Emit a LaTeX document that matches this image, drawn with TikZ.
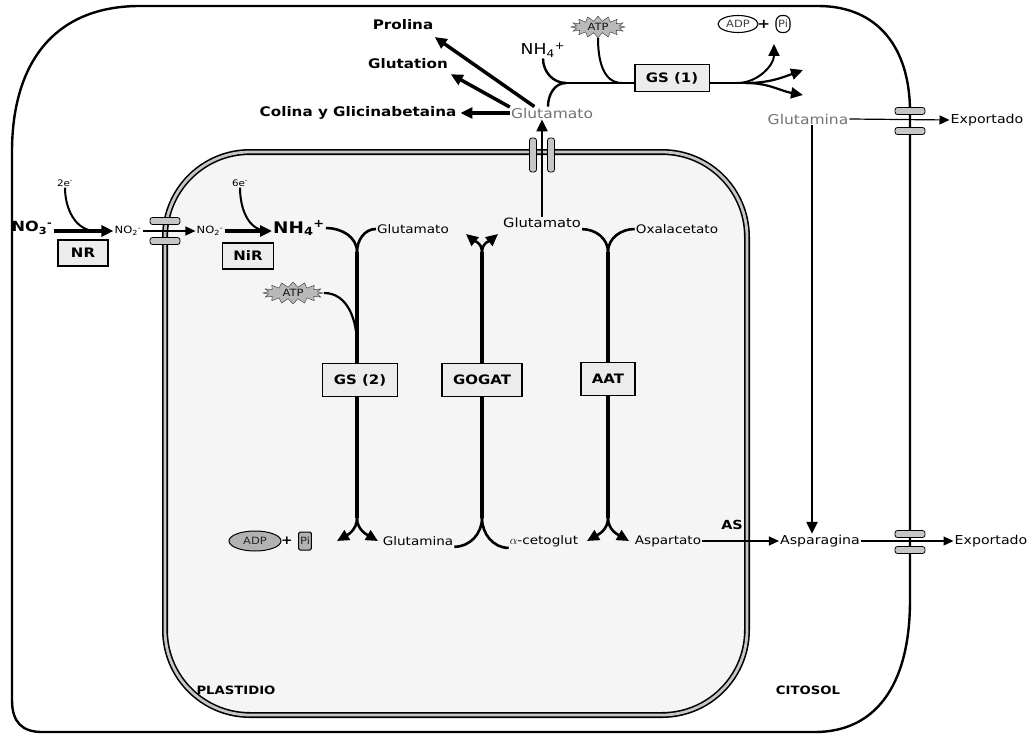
\documentclass[tikz,border=0pt]{standalone}
\usepackage{fontspec}
\setmainfont{DejaVu Sans}[FakeStretch=1.15]
\usetikzlibrary{arrows.meta,positioning,shapes.symbols,shapes.geometric}

\begin{document}
\begin{tikzpicture}[x=1pt, y=-1pt, >={Triangle[length=12pt,width=11pt]},
  every node/.style={inner sep=1pt},
  head/.style={font=\fontsize{13.2}{15}\selectfont\bfseries},
  met/.style={font=\fontsize{11.8}{14}\selectfont},
  metc/.style={font=\fontsize{13.5}{16}\selectfont, text=black!55},
  expo/.style={font=\fontsize{12.3}{14}\selectfont},
  elec/.style={font=\fontsize{9}{10}\selectfont},
  ion/.style={font=\fontsize{15}{17}\selectfont},
  enz/.style={draw, line width=1.3pt, fill=gray!15, minimum height=33pt,
    inner xsep=11pt, font=\fontsize{13}{15}\selectfont\bfseries},
  atp/.style={starburst, starburst points=16, starburst point height=5pt,
    random starburst=0, draw=gray!40!black, fill=gray!55, minimum width=54pt,
    minimum height=17pt, inner sep=0.5pt, text=gray!15!black,
    font=\fontsize{10}{11}\selectfont},
  hpill/.style={draw, line width=0.8pt, fill=gray!45, rounded corners=2.5pt,
    minimum width=30pt, minimum height=7pt, inner sep=0pt},
  vpill/.style={draw, line width=0.8pt, fill=gray!45, rounded corners=2.5pt,
    minimum width=7pt, minimum height=34pt, inner sep=0pt},
  stem/.style={line width=4pt},
  branch/.style={line width=2.6pt},
  fat/.style={line width=3.5pt, ->},
  slim/.style={line width=1.2pt, -{Triangle[length=10pt,width=9pt]}}
]
\useasboundingbox (0,0) rectangle (1033,741);

% cell wall
\draw[line width=2.4pt, line join=round] (12,700) -- (12,152)
  .. controls (12,62) and (55,6) .. (140,6) -- (818,6)
  .. controls (878,6) and (910,48) .. (910,112) -- (910,600)
  .. controls (910,690) and (872,732) .. (815,732) -- (42,732)
  .. controls (22,732) and (12,722) .. (12,700) -- cycle;

% plastid envelope
\fill[gray!8, rounded corners=85pt] (165,152) rectangle (747,715);
\draw[line width=6pt, rounded corners=85pt] (165,152) rectangle (747,715);
\draw[line width=2.8pt, gray!45, rounded corners=85pt] (165,152) rectangle (747,715);

% channels
\node[hpill] (ch1a) at (165,221) {};
\node[hpill] (ch1b) at (165,241) {};
\node[vpill] (ch2a) at (533,155) {};
\node[vpill] (ch2b) at (551,155) {};
\node[hpill] (ch3a) at (910,111) {};
\node[hpill] (ch3b) at (910,131) {};
\node[hpill] (ch4a) at (910,534) {};
\node[hpill] (ch4b) at (910,550) {};

% cytosol, top
\node[head] (prolina) at (403,25) {Prolina};
\node[head] (glutation) at (408,64) {Glutation};
\node[head] (colina) at (358,113) {Colina y Glicinabetaina};
\node[metc] (glutop) at (552,113) {Glutamato};
\draw[fat, shorten >=10pt] (glutop.160) -- (prolina.-15);
\draw[fat, shorten >=8pt] (glutop.172) -- (glutation.-10);
\draw[fat, shorten >=3pt] (glutop.west) -- (colina.east);

\node[ion] (nh4c) at (543,50) {NH\textsubscript{4}\textsuperscript{+}};
\node[atp] (atpc) at (598,27) {ATP};
\node[draw, ellipse, line width=1.1pt, minimum width=40pt, minimum height=17pt,
  inner sep=0pt, text=gray!50!black, font=\fontsize{10}{11}\selectfont] (adpc) at (738,24) {ADP};
\node[font=\fontsize{13}{14}\selectfont\bfseries] (plusc) at (764,24) {+};
\node[draw, rounded corners=6pt, line width=1.1pt, minimum height=17pt, minimum width=14pt,
  inner sep=1pt, text=gray!50!black, font=\fontsize{10}{11}\selectfont] (pic) at (783,24) {Pi};
\node[metc] (glnc) at (808,119) {Glutamina};
\node[expo] (exp1) at (987,120) {Exportado};

\coordinate (jc) at (566,83);
\coordinate (ja) at (622,83);
\coordinate (jp) at (737,83);
\coordinate (jr) at (746,83);
\coordinate (t1) at (803,70);
\coordinate (t2) at (803,95);
\coordinate (tp) at (774,44);
\draw[line width=2.4pt] (nh4c.south) to[out=-90,in=180] (jc);
\draw[line width=2.4pt] ([xshift=-4pt]glutop.north) to[out=90,in=180] (jc);
\draw[line width=2.4pt] (jc) -- (jr);
\draw[line width=2pt] (atpc.south) to[out=-90,in=180] (ja);
\node[enz, minimum height=27pt] (gs1) at (672,78) {GS (1)};
\draw[line width=2.2pt, ->] (jr) to[out=0,in=200] (t1);
\draw[line width=2.2pt, ->] (jr) to[out=0,in=170] (t2);
\draw[line width=2pt, ->] (jp) to[out=0,in=-90] (tp);

\draw[slim] (glnc.east) -- (exp1.west);

% nitrate reduction
\node[elec] (e2) at (65,183) {2e\textsuperscript{-}};
\node[ion, font=\fontsize{14}{16}\selectfont\bfseries] (no3) at (32,228) {NO\textsubscript{3}\textsuperscript{-}};
\node[enz, minimum height=26pt, minimum width=50pt] (nr) at (83,253) {NR};
\node[font=\fontsize{10}{11}\selectfont] (no2a) at (128,231) {NO\textsubscript{2}\textsuperscript{-}};
\coordinate (jnr) at (96,231);
\draw[fat] (no3.east |- no2a) -- (no2a.west);
\draw[line width=2pt] (e2.south) to[out=-90,in=180] (jnr);
\node[font=\fontsize{10}{11}\selectfont] (no2b) at (210,231) {NO\textsubscript{2}\textsuperscript{-}};
\draw[slim] (no2a.east) -- (no2b.west);
\node[elec] (e6) at (240,183) {6e\textsuperscript{-}};
\node[enz, minimum height=26pt, minimum width=50pt] (nir) at (248,256) {NiR};
\node[ion, font=\fontsize{16}{18}\selectfont\bfseries] (nh4p) at (299,228) {NH\textsubscript{4}\textsuperscript{+}};
\coordinate (jnir) at (268,231);
\draw[fat] (no2b.east) -- (nh4p.west |- no2b);
\draw[line width=2pt] (e6.south) to[out=-90,in=180] (jnir);

% plastid cycle
\node[met] (glu1) at (413,229) {Glutamato};
\node[font=\fontsize{12.8}{15}\selectfont] (glu2) at (542,223) {Glutamato};
\node[met] (oxa) at (677,229) {Oxalacetato};
\node[met] (gln1) at (418,541) {Glutamina};
\node[met] (akg) at (544,541) {$\alpha$-cetoglut};
\node[met] (asp) at (668,541) {Aspartato};

\coordinate (c1t) at (357,252);  \coordinate (c1b) at (357,518);
\coordinate (c2t) at (482,252);  \coordinate (c2b) at (482,518);
\coordinate (c3t) at (608,252);  \coordinate (c3b) at (608,518);
\coordinate (c1a) at (357,345);
\foreach \c in {1,2,3}
  \draw[stem] (c\c t) -- (c\c b);

\draw[branch] (nh4p.east) to[out=0,in=90] (c1t);
\draw[branch] (glu1.west) to[out=180,in=90] (c1t);
\coordinate (a2l) at (466,234);  \coordinate (a2r) at (498,234);
\draw[branch, ->] (c2t) to[out=90,in=-40] (a2l);
\draw[branch, ->] (c2t) to[out=90,in=-140] (a2r);
\draw[branch] (glu2.south east) to[out=0,in=90] (c3t);
\draw[branch] (oxa.west) to[out=180,in=90] (c3t);

\coordinate (b1l) at (337,541);  \coordinate (b1r) at (378,541);
\coordinate (b3l) at (587,541);  \coordinate (b3r) at (629,541);
\draw[branch, ->] (c1b) to[out=-90,in=30] (b1l);
\draw[branch, ->] (c1b) to[out=-90,in=150] (b1r);
\draw[branch] (gln1.south east) to[out=0,in=-90] (c2b);
\draw[branch] (akg.south west) to[out=180,in=-90] (c2b);
\draw[branch, ->] (c3b) to[out=-90,in=30] (b3l);
\draw[branch, ->] (c3b) to[out=-90,in=150] (b3r);

\node[atp, minimum width=60pt, minimum height=19pt] (atpp) at (293,293) {ATP};
\draw[line width=2.2pt] (atpp.east) to[out=0,in=90] (c1a);

\node[enz] (gs2) at (360,380) {GS (2)};
\node[enz] (gogat) at (482,380) {GOGAT};
\node[enz] (aat) at (608,379) {AAT};

\node[draw, ellipse, line width=1pt, fill=gray!60, minimum width=52pt,
  minimum height=20pt, inner sep=0pt, text=gray!30!black,
  font=\fontsize{10}{11}\selectfont] (adpp) at (255,541) {ADP};
\node[font=\fontsize{12}{13}\selectfont\bfseries] (plusp) at (287,541) {+};
\node[draw, line width=1pt, fill=gray!60, minimum height=18pt, inner sep=1.5pt,
  rounded corners=1.5pt, text=gray!30!black, font=\fontsize{10}{11}\selectfont] (pip) at (305,541) {Pi};

% towards the cytosol
\draw[line width=2.2pt, ->] (glu2.north) -- (glu2.north |- glutop.south);
\node[expo] (asn) at (820,541) {Asparagina};
\node[font=\fontsize{12.5}{14}\selectfont\bfseries] (as) at (732,525) {AS};
\draw[slim] (asp.east) -- (asn.west);
\draw[line width=2.2pt, ->] ([xshift=4pt]glnc.south) -- ([xshift=4pt]glnc.south |- asn.north);
\node[expo] (exp2) at (991,541) {Exportado};
\draw[slim] (asn.east) -- (exp2.west);

\node[font=\fontsize{11.5}{13}\selectfont\bfseries] (plast) at (236,690) {PLASTIDIO};
\node[font=\fontsize{11.5}{13}\selectfont\bfseries] (citosol) at (808,690) {CITOSOL};
\end{tikzpicture}
\end{document}
